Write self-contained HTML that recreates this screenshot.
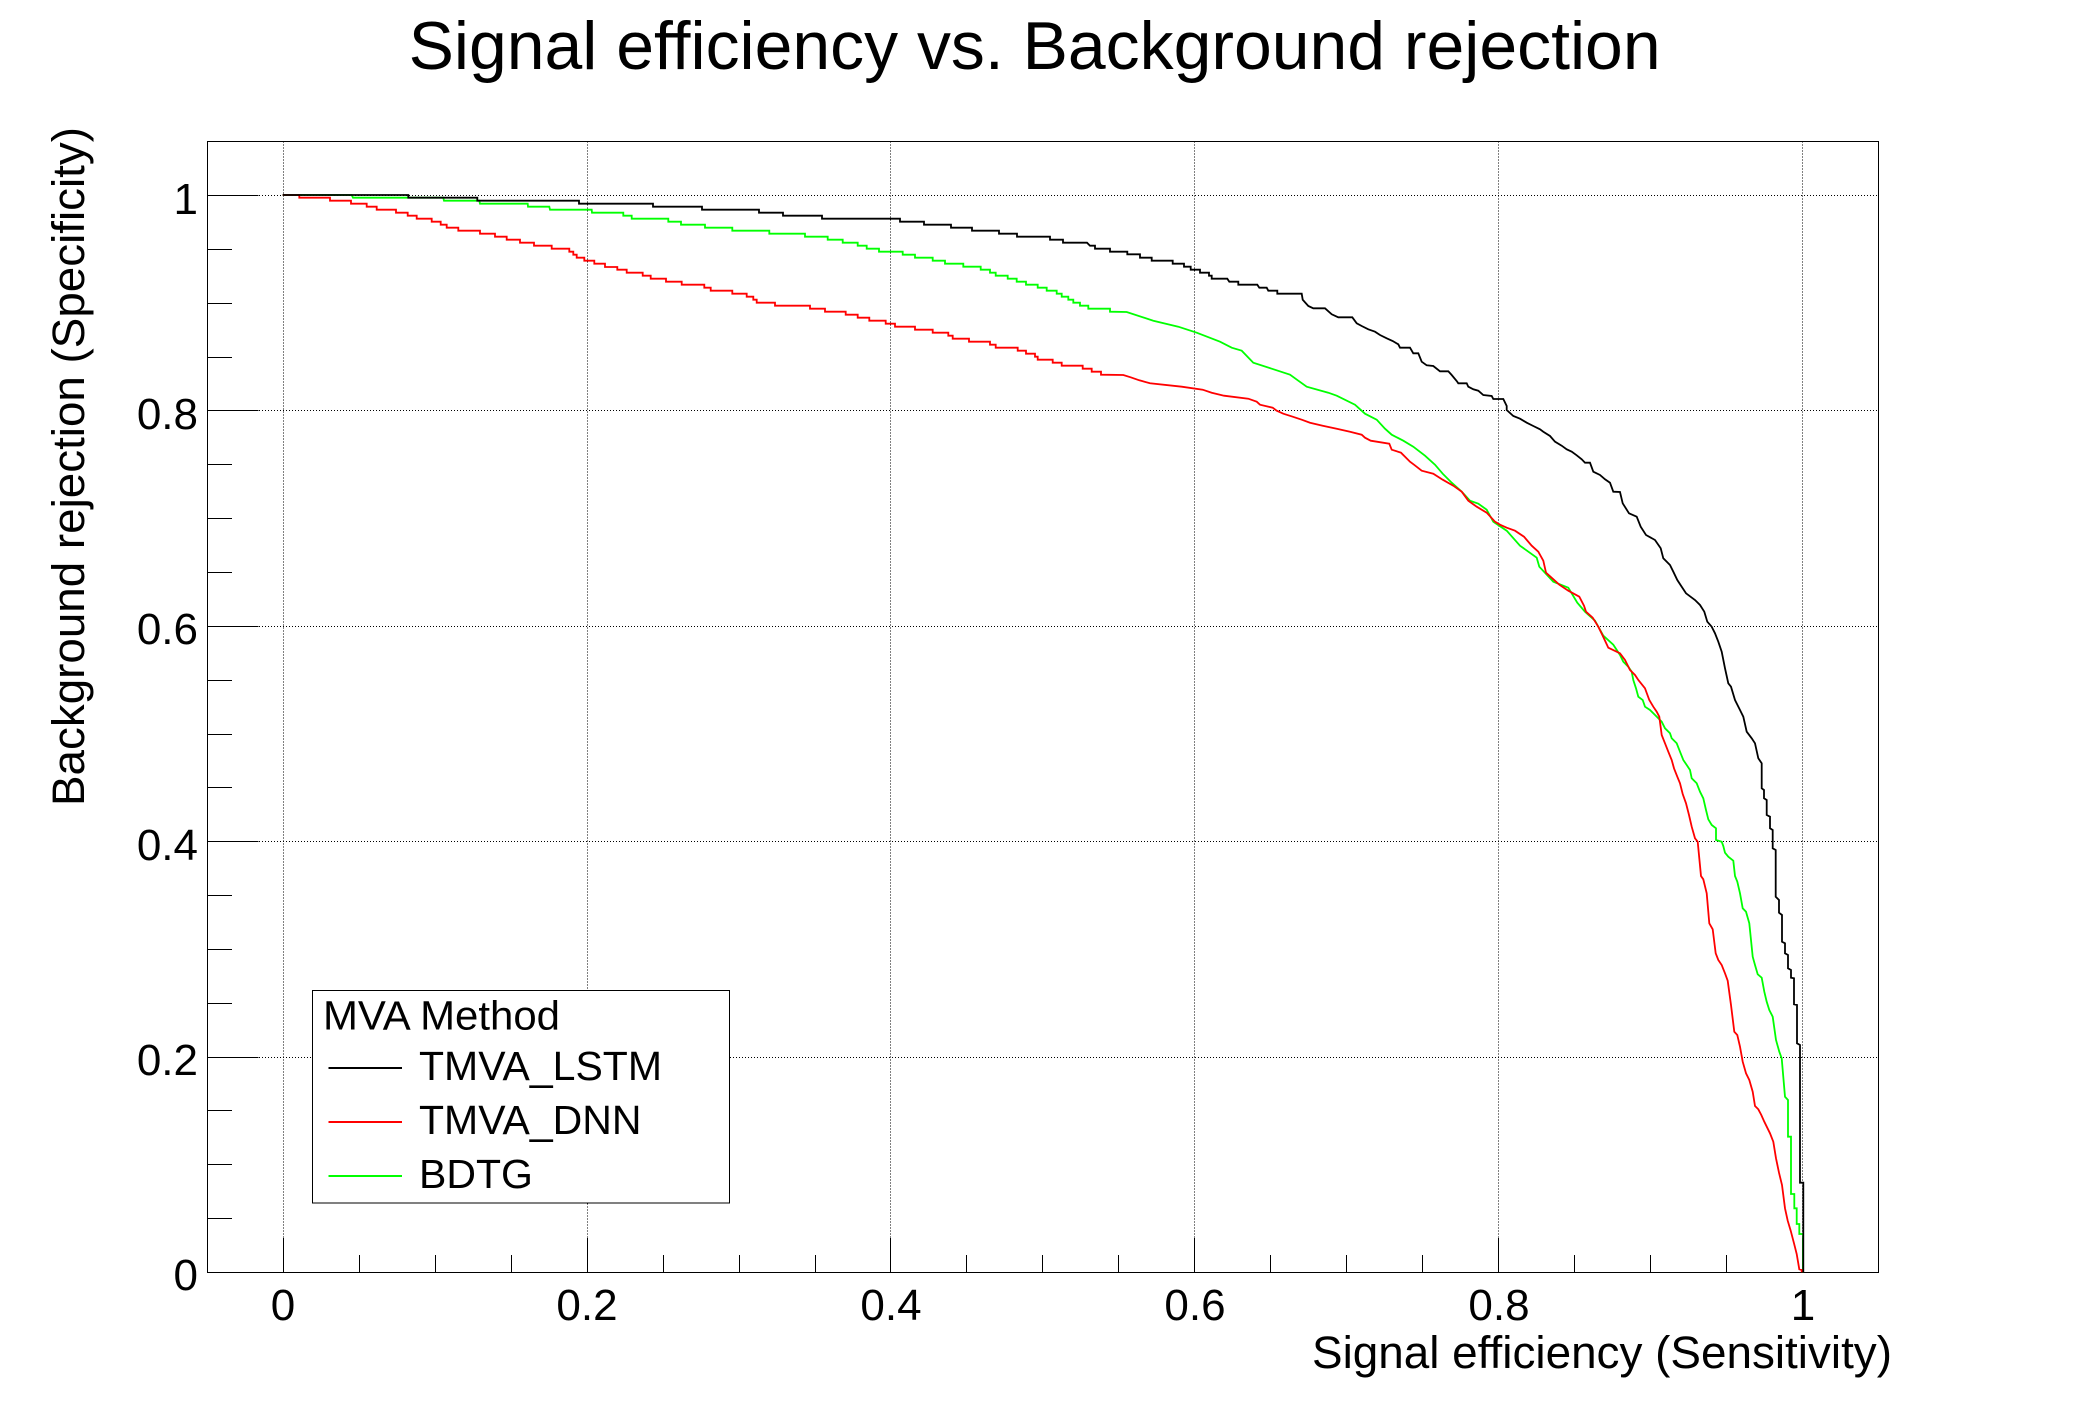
<!DOCTYPE html>
<html>
<head>
<meta charset="utf-8">
<style>
html,body{margin:0;padding:0;background:#fff;}
svg{display:block;}
text{font-family:"Liberation Sans",Arial,sans-serif;fill:#000;}
</style>
</head>
<body>
<svg width="2088" height="1416" viewBox="0 0 2088 1416" xmlns="http://www.w3.org/2000/svg">
<rect x="0" y="0" width="2088" height="1416" fill="#fff"/>
<text x="1034.6" y="69" font-size="68" text-anchor="middle" textLength="1252" lengthAdjust="spacingAndGlyphs">Signal efficiency vs. Background rejection</text>

<path fill="none" stroke="#000" stroke-width="1" stroke-dasharray="1,2" shape-rendering="crispEdges"
 d="M283.5 141.5V1272M587.5 141.5V1272M890.5 141.5V1272M1194.5 141.5V1272M1498.5 141.5V1272M1802.5 141.5V1272M208 195.5H1878M208 410.5H1878M208 626.5H1878M208 841.5H1878M208 1057.5H1878"/>

<rect x="207.5" y="141.5" width="1671" height="1131" fill="none" stroke="#000" stroke-width="1.2" shape-rendering="crispEdges"/>

<path fill="none" stroke="#000" stroke-width="1.2" shape-rendering="crispEdges"
 d="M207.5 195.5h51M207.5 410.5h51M207.5 626.5h51M207.5 841.5h51M207.5 1057.5h51
 M207.5 249.5h24.5M207.5 303.5h24.5M207.5 357.5h24.5M207.5 464.5h24.5M207.5 518.5h24.5M207.5 572.5h24.5M207.5 680.5h24.5M207.5 734.5h24.5M207.5 787.5h24.5M207.5 895.5h24.5M207.5 949.5h24.5M207.5 1003.5h24.5M207.5 1110.5h24.5M207.5 1164.5h24.5M207.5 1218.5h24.5
 M283.5 1272.5v-34.5M587.5 1272.5v-34.5M890.5 1272.5v-34.5M1194.5 1272.5v-34.5M1498.5 1272.5v-34.5M1802.5 1272.5v-34.5
 M359.5 1272.5v-17.5M435.5 1272.5v-17.5M511.5 1272.5v-17.5M663.5 1272.5v-17.5M739.5 1272.5v-17.5M815.5 1272.5v-17.5M966.5 1272.5v-17.5M1042.5 1272.5v-17.5M1118.5 1272.5v-17.5M1270.5 1272.5v-17.5M1346.5 1272.5v-17.5M1422.5 1272.5v-17.5M1574.5 1272.5v-17.5M1650.5 1272.5v-17.5M1726.5 1272.5v-17.5"/>

<g font-size="44">
<text x="198" y="214" text-anchor="end">1</text>
<text x="198" y="429" text-anchor="end">0.8</text>
<text x="198" y="644" text-anchor="end">0.6</text>
<text x="198" y="860" text-anchor="end">0.4</text>
<text x="198" y="1075" text-anchor="end">0.2</text>
<text x="198" y="1290" text-anchor="end">0</text>
<text x="283" y="1320" text-anchor="middle">0</text>
<text x="587" y="1320" text-anchor="middle">0.2</text>
<text x="891" y="1320" text-anchor="middle">0.4</text>
<text x="1195" y="1320" text-anchor="middle">0.6</text>
<text x="1499" y="1320" text-anchor="middle">0.8</text>
<text x="1803" y="1320" text-anchor="middle">1</text>
</g>

<text x="1892" y="1368" font-size="45" text-anchor="end" textLength="580" lengthAdjust="spacingAndGlyphs">Signal efficiency (Sensitivity)</text>
<text transform="translate(84,127) rotate(-90)" x="0" y="0" font-size="45" text-anchor="end" textLength="679" lengthAdjust="spacingAndGlyphs">Background rejection (Specificity)</text>

<g fill="none" stroke-width="1.8">
<path stroke="#00ff00" d="M282.7 195H351.7L353 197.7H443.3L444 200.7H479.3L480 203.7H527.7L528 206.7H549.3L550 209.7H591.7L592 212.7H623.3V215.7H631.7V218.7H668.3V221.7H681V224.7H705V227.7H732.3V230.7H769.3V233.7H805V236.7H827.7V239.7H842.7V242.7H857.7V245.7H866.7V248.7H879V251.7H902.7V254.7H915V257.7H932.7V260.7H945V263.7H963.3V266.7H980.7V269.7H990V272.7H995.7V275.7H1007.7V278.7H1016.7V281.7H1026V284.7H1037.7V287.7H1046.7V290.7H1056.7V293.7H1061.7V296.7H1068.3V299.7H1073.3V302.7H1080V305.7H1088.3V308.7H1110V311.7L1126.7 312 1153.3 320.7 1178.3 326.7 1196.7 332.7 1220 341.7 1231.7 347.7 1241.7 350.7 1253.3 362.7 1271.7 368.7 1290 374.7 1298.3 380.7 1306.7 386.7 1328.3 392.7 1336.7 395.7 1355 404.7 1365 413.7 1376.7 419.7 1385 428.7 1391.7 434.7 1403.3 440.7 1413.3 446.7 1425 455.7 1435 464.7 1442.7 473.7 1451.7 482.7 1461.7 491.7 1470 500.7 1478.3 503.7 1486.7 509.7 1493.3 521.7 1506.7 530.7 1520 545.7 1536.7 557.7 1539.3 566.7 1553.3 581.7 1568.3 587.7 1577.3 602.7 1585 611.7 1595 620.7 1603.3 635.7 1613.3 644.7 1620 655 1623.3 661.7 1628.3 666.7 1631.7 671.7 1633.3 680 1636 688.3 1638.3 696.7 1642.7 700 1645 706.7 1650 710 1653.3 713.3 1658.3 718.3 1661.7 721.7 1665 728.3 1670 733.3 1671.7 738.3 1676.7 743.3 1680 751.7 1683.3 760 1686.7 765 1690 770 1691.7 778.3 1696.7 783.3 1700 791.7 1703.3 798.3 1706 810 1708.3 819.3 1711.7 825 1716 828.3V840L1721.7 841.7 1723.3 846 1725 852.7 1728.3 856.7 1733.3 860.7 1735 876 1737.3 881.7 1740 893.3 1742.7 908.3 1746 911.7 1749.3 923.3 1752.7 956.7 1755 965 1757.7 974.3 1761.7 977.7 1764.3 991.7 1766.7 1001.7 1769.3 1010 1772.7 1016.7 1776 1040 1779.3 1051.7 1781.7 1058.3 1785 1096.7 1788 1100V1136.7H1791V1194H1794.3V1208.3H1796.7V1224H1799.3V1234H1803V1272.3"/>
<path stroke="#ff0000" d="M282.7 195H299.3V197.7H330V200.7H351V203.7H366.7V206.7H376.7V209.7H396V212.7H407.7V215.7H416.7V218.7H431.7V221.7H440.7V224.7H446.7V227.7H458.3V230.7H480V233.7H495V236.7H506.7V239.7H520V242.7H534V245.7H551.7V248.7H569.3V251.7H573.3V254.7H576.7V257.7H584.3V260.7H594.3V263.7H605V267H617.3V269.7H626.7V272.7H642.7V275.7H650.7V278.7H666V281.7H681.7V284.7H704.3V287.7H710.7V290.7H732.3V293.7H746.7V296.7H753.3V299.7H756.7V302.7H775V305.7H810V308.7H825V311.7H845.7V314.7H857.7V317.7H869.3V320.7H885.7V323.7H895V326.7H915V329.7H932.7V332.7H948.3V335.7H952.7V338.7H969V341.7H990V344.7H995.7V347.7H1017.7V350.7H1026V353.7H1035V356.7H1037.7V359.7H1052.7V362.7H1061.7V365.7H1082.7V368.7H1091.7V371.7H1101V374.7L1123.3 375 1130.7 377.3 1139.3 380.3 1150 383.3 1181.7 386.7 1202.7 389.7 1211.7 392.7 1224 395.7 1248.3 398.7 1256.7 401.7 1260 404.7 1272.7 407.7 1276.7 410.7 1283.3 413.7 1292.7 416.7 1301.7 419.7 1310 422.7 1322.7 425.7 1336.7 428.7 1350 431.7 1361.7 434.7 1365 437.7 1370.7 440.7 1389.3 443.7 1391.7 449.7 1401 452.7 1410 461.7 1414 464.7 1421.7 470.7 1433.3 473.7 1442.7 479.7 1453.3 485.7 1461.7 491.7 1468.3 500.7 1476.7 506.7 1486.7 512.7 1495 521.7 1500 524.7 1506.7 527.7 1515 530.7 1524 536.7 1531.7 545.7 1538.3 551.7 1543.3 560.7 1546 572.7 1552.7 578.7 1559.3 584.7 1568.3 590.7 1579.3 596.7 1584 605.7 1586 611.7 1592.7 617.7 1598.3 626.7 1602.7 635.7 1608.3 647.7 1620 653.3 1625 660 1630 670 1635 675 1638.3 680 1645 688.3 1649.3 700 1653.3 706.7 1656.7 711.7 1659.3 716.7 1661.7 735 1665 743.3 1668.3 751.7 1671.7 760 1674 768.3 1677.3 776.7 1680 783.3 1682.7 794 1686 803.3 1689 815 1691.7 826.7 1695 838.3 1697.7 841.7 1701 876 1703.3 879.3 1706.7 893.3 1709.3 923.3 1712.7 929.3 1715.7 953.3 1718.3 960 1721.7 965 1725 973.3 1727.7 980.7 1731 1005 1734.3 1031.7 1737.3 1035 1740 1046.7 1742.7 1061.7 1746 1073.3 1749.3 1080 1752.7 1091.7 1755 1106 1758.3 1109.3 1761.3 1115 1764.3 1121.7 1770 1133.3 1773.3 1141.7 1776 1158.3 1779 1172.7 1782 1185 1785 1208.3 1787.7 1220.7 1790.7 1230.7 1794 1243.3 1796.7 1254 1799.3 1269.3 1801.7 1270V1272.3"/>
<path stroke="#000000" d="M282.7 195H408.3V197.7H477.3V200.7H579V203.7H653V206.7H702V209.7H759V212.7H783V215.7H822V218.7H900V221.7H924V224.7H951V227.7H972V230.7H999V233.7H1017V236.7H1050V239.7H1063V242.7H1087L1090 245.7H1095V248.7H1110V251.7H1127.3V254.3H1140V257.7H1151.7V260.7H1172.7V263.7H1184V266.7H1190.7V269.7H1200V272.7H1209V275.7H1211.7V278.7H1227.3L1229.3 281.7H1238.3V284.7H1257.3L1259.3 287.7H1266.7L1268.3 290.7H1277.3V293.7H1301.7L1302.7 299.7 1308.3 306 1313.3 308.3H1325L1331.7 314.3 1338.3 317.3H1352.3L1356.7 323.3 1361.7 326 1368.3 329.3 1375 331.7 1380 335 1386.7 338.3 1392.7 341 1398.3 344.3 1400 347.7H1410L1413.3 353.3H1418.3L1421.7 361.7 1426.7 365.3 1433.3 366 1440 371.3H1448.3L1451.7 375 1456.7 381 1458.3 383.3H1466.7L1468.3 386.7 1473.3 389.3 1478.3 390.7 1483.3 395 1491.7 396 1493.3 399H1503.3L1506.7 406V410L1513.3 416 1520 418.7 1526.7 422.7 1533.3 426 1540 429.3 1543.3 431.7 1550 436 1555 441.7 1561.7 445.7 1566.7 449.3 1571.7 451.7 1576.7 455.3 1581.7 459.3 1585 462.7H1590L1593.3 471.7 1600 475 1605 479.3 1610 482.7 1613.3 491.7 1620 492 1622.7 503.3 1629 513.3 1636.7 516.7 1640.7 526.7 1646 535 1655 540 1660.7 548.3 1663.3 558.3 1670 565 1673.3 571.7 1677.3 580 1681.7 586.7 1686 593.3 1695 600 1700 605 1704.3 611.7 1707.3 621.7 1711.7 626.7 1715 633.3 1718.3 641.7 1721.7 651.7 1725 668.3 1728.3 683.3 1731 686.7 1735 700 1740 710 1743.3 716.7 1746.7 731.7 1751.7 738.3 1755 743.3 1758.3 758.3 1761.7 763.3V788.3L1764 790V798.3L1766.7 800V815L1770 816.7V828.3L1772.7 830V848.3L1775.7 850V896.7L1779 900V912.7L1782 915V941.7L1785 943.3V953.3L1788 955V968.3L1791 970V977.7L1794 978.3V1004.3L1797 1005V1043.3L1800 1045V1182.7H1803.3V1272.3"/>
</g>

<rect x="312.5" y="990.5" width="417" height="212.5" fill="#fff" stroke="#000" stroke-width="1.2" shape-rendering="crispEdges"/>
<text x="323" y="1029.5" font-size="41" textLength="237" lengthAdjust="spacingAndGlyphs">MVA Method</text>
<path fill="none" stroke="#000" stroke-width="2" shape-rendering="crispEdges" d="M328.5 1068H402"/>
<path fill="none" stroke="#ff0000" stroke-width="2" shape-rendering="crispEdges" d="M328.5 1122H402"/>
<path fill="none" stroke="#00ff00" stroke-width="2" shape-rendering="crispEdges" d="M328.5 1176H402"/>
<g font-size="41">
<text x="419" y="1080" textLength="243" lengthAdjust="spacingAndGlyphs">TMVA_LSTM</text>
<text x="419" y="1134">TMVA_DNN</text>
<text x="419" y="1188">BDTG</text>
</g>
</svg>
</body>
</html>
